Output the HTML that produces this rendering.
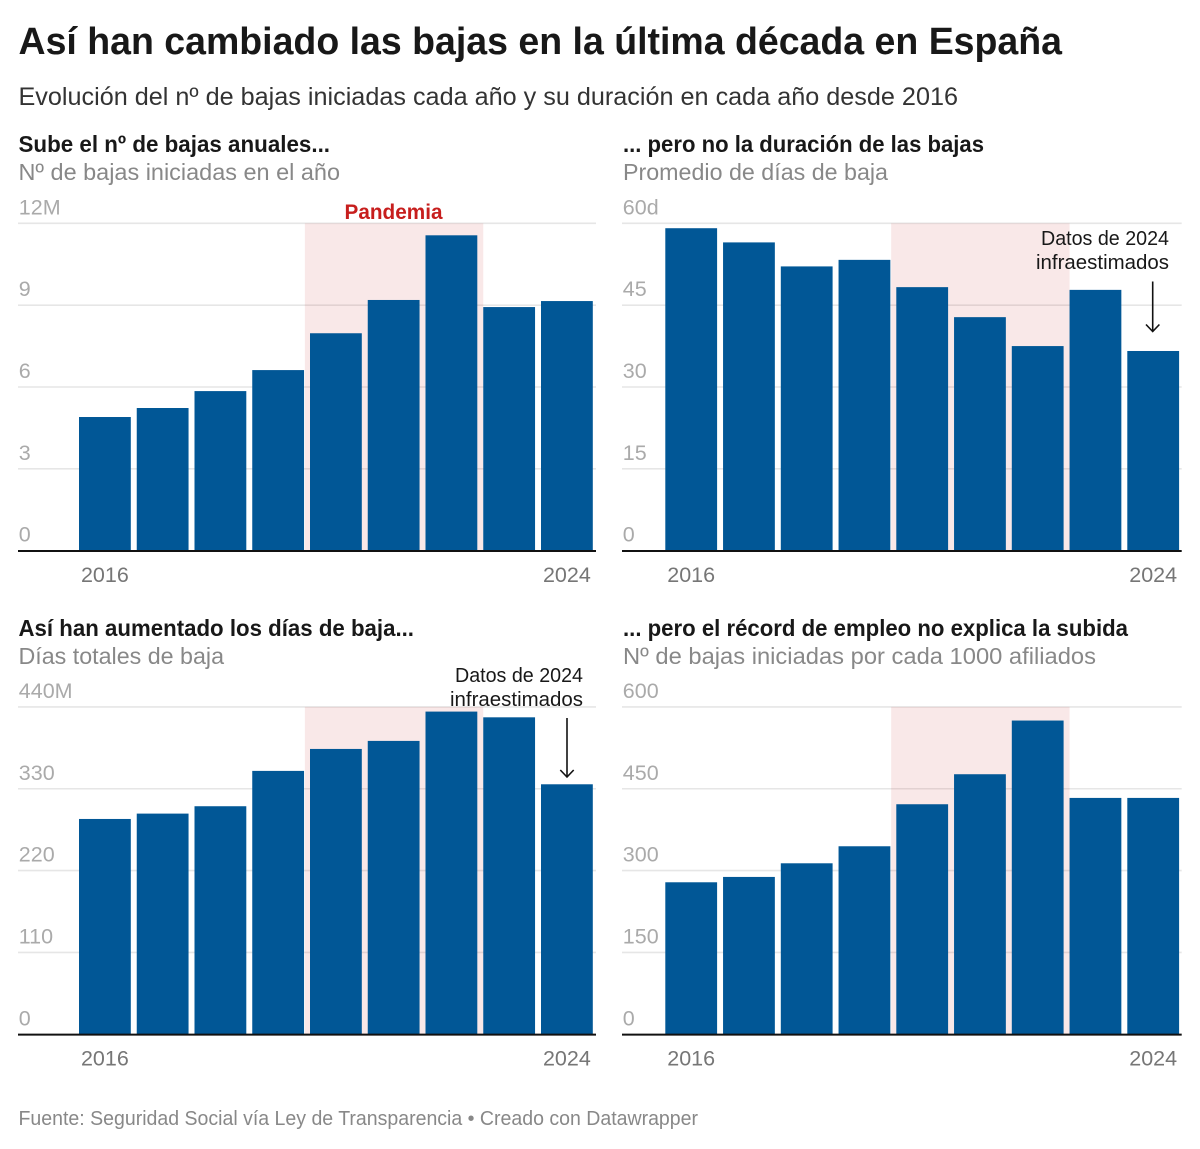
<!DOCTYPE html>
<html lang="es">
<head>
<meta charset="utf-8">
<title>Así han cambiado las bajas en la última década en España</title>
<style>
  html, body { margin: 0; padding: 0; background: #fff; width: 1200px; height: 1149px; overflow: hidden; }
  svg { display: block; font-family: "Liberation Sans", Arial, sans-serif; }
  .title { font-size: 38px; font-weight: 700; fill: #181818; }
  .subtitle { font-size: 25px; fill: #333333; }
  .head { font-size: 23px; font-weight: 700; fill: #181818; }
  .desc { font-size: 23px; fill: #888888; }
  .ytick { font-size: 21.5px; fill: #aaaaaa; }
  .xtick { font-size: 21.5px; fill: #767676; }
  .note { font-size: 20.5px; fill: #181818; }
  .pand { font-size: 21px; font-weight: 700; fill: #c71e1d; }
  .foot { font-size: 20px; fill: #888888; }
</style>
</head>
<body>
<svg id="chart" xmlns="http://www.w3.org/2000/svg" width="1200" height="1149" viewBox="0 0 1200 1149">
  <rect x="0" y="0" width="1200" height="1149" fill="#ffffff"/>
  <text class="title" x="18.5" y="54" textLength="1043.5" lengthAdjust="spacingAndGlyphs">Así han cambiado las bajas en la última década en España</text>
  <text class="subtitle" x="18.5" y="105" textLength="939.5" lengthAdjust="spacingAndGlyphs">Evolución del nº de bajas iniciadas cada año y su duración en cada año desde 2016</text>

  <text class="head" x="18.5" y="152" textLength="311.5" lengthAdjust="spacingAndGlyphs">Sube el nº de bajas anuales...</text>
  <text class="desc" x="18.5" y="180" textLength="321.5" lengthAdjust="spacingAndGlyphs">Nº de bajas iniciadas en el año</text>

  <text class="head" x="623" y="152" textLength="361" lengthAdjust="spacingAndGlyphs">... pero no la duración de las bajas</text>
  <text class="desc" x="623" y="180" textLength="265" lengthAdjust="spacingAndGlyphs">Promedio de días de baja</text>

  <text class="head" x="18.5" y="636" textLength="395.5" lengthAdjust="spacingAndGlyphs">Así han aumentado los días de baja...</text>
  <text class="desc" x="18.5" y="664" textLength="205.5" lengthAdjust="spacingAndGlyphs">Días totales de baja</text>

  <text class="head" x="623" y="636" textLength="505" lengthAdjust="spacingAndGlyphs">... pero el récord de empleo no explica la subida</text>
  <text class="desc" x="623" y="664" textLength="473" lengthAdjust="spacingAndGlyphs">Nº de bajas iniciadas por cada 1000 afiliados</text>

  <g id="panel-1"></g>
  <g id="panel-2"></g>
  <g id="panel-3"></g>
  <g id="panel-4"></g>

  <text class="pand" x="393.5" y="219" text-anchor="middle" textLength="98" lengthAdjust="spacingAndGlyphs">Pandemia</text>

  <text class="note" x="1041" y="245" textLength="128" lengthAdjust="spacingAndGlyphs">Datos de 2024</text>
  <text class="note" x="1036" y="269" textLength="133" lengthAdjust="spacingAndGlyphs">infraestimados</text>
  <g fill="none" stroke="#111111" stroke-width="1.6">
    <path d="M1152.7 281.5V331"/>
    <path d="M1146 324.5L1152.7 331.5L1159.4 324.5"/>
  </g>

  <text class="note" x="455" y="682" textLength="128" lengthAdjust="spacingAndGlyphs">Datos de 2024</text>
  <text class="note" x="450" y="706" textLength="133" lengthAdjust="spacingAndGlyphs">infraestimados</text>
  <g fill="none" stroke="#111111" stroke-width="1.6">
    <path d="M567 718V776.5"/>
    <path d="M560.3 770L567 777L573.7 770"/>
  </g>

  <text class="foot" x="18.5" y="1125" textLength="679.5" lengthAdjust="spacingAndGlyphs">Fuente: Seguridad Social vía Ley de Transparencia • Creado con Datawrapper</text>
</svg>

<script>
// Chart data
var years = [2016, 2017, 2018, 2019, 2020, 2021, 2022, 2023, 2024];
var pandemicYears = [2020, 2022];

var bajasAnuales = [4.90, 5.23, 5.85, 6.62, 7.97, 9.19, 11.56, 8.93, 9.15];
var bajasTicks = [0, 3, 6, 9, 12];
var bajasTickLabels = ['0', '3', '6', '9', '12M'];

var duracionDias = [59.1, 56.5, 52.1, 53.3, 48.3, 42.8, 37.5, 47.8, 36.6];
var duracionTicks = [0, 15, 30, 45, 60];
var duracionTickLabels = ['0', '15', '30', '45', '60d'];

var diasTotales = [289.4, 296.6, 306.5, 354, 383.5, 394.3, 433.7, 426, 336];
var diasTicks = [0, 110, 220, 330, 440];
var diasTickLabels = ['0', '110', '220', '330', '440M'];

var bajasPorMil = [278.6, 288.4, 313.4, 344.6, 421.6, 476.6, 575, 433.2, 433.2];
var porMilTicks = [0, 150, 300, 450, 600];
var porMilTickLabels = ['0', '150', '300', '450', '600'];

var SVG_NS = 'http://www.w3.org/2000/svg';

function make(tag, parent) {
  var el = document.createElementNS(SVG_NS, tag);
  parent.appendChild(el);
  return el;
}

function drawPanel(groupId, axisLeft, axisRight, firstBar, baseY, values, ticks, tickLabels) {
  var group = document.getElementById(groupId);
  var plotHeight = 327.4;
  var step = 57.75;
  var barWidth = 51.8;
  var maxTick = ticks[ticks.length - 1];

  function yScale(v) { return baseY - (v / maxTick) * plotHeight; }
  function xScale(i) { return firstBar + i * step; }
  function xOfYear(year) { return xScale(years.indexOf(year)); }

  // gridlines + y tick labels
  ticks.forEach(function (t, i) {
    if (t !== 0) {
      var line = make('line', group);
      
      
      line.setAttribute('x1', axisLeft);
      line.setAttribute('x2', axisRight);
      line.setAttribute('y1', yScale(t));
      line.setAttribute('y2', yScale(t));
      line.setAttribute('stroke', '#e6e6e6');
      line.setAttribute('stroke-width', '1.6');
    }
    var label = make('text', group);
    
    
    label.setAttribute('class', 'ytick');
    label.setAttribute('x', axisLeft + 0.8);
    label.setAttribute('y', yScale(t) - 9);
    label.textContent = tickLabels[i];
  });

  // pandemic band: from right edge of the bar before it, to left edge of the bar after it
  var bandStart = xOfYear(pandemicYears[0]) - step + barWidth + 0.8;
  var bandEnd = xOfYear(pandemicYears[1]) + step;
  var band = make('rect', group);
  
  
  band.setAttribute('x', bandStart);
  band.setAttribute('y', yScale(maxTick));
  band.setAttribute('width', bandEnd - bandStart);
  band.setAttribute('height', plotHeight);
  band.setAttribute('fill', '#c71e1d');
  band.setAttribute('fill-opacity', '0.1');

  // bars
  values.forEach(function (v, i) {
    var bar = make('rect', group);
    
    
    bar.setAttribute('x', xScale(i));
    bar.setAttribute('y', yScale(v));
    bar.setAttribute('width', barWidth);
    bar.setAttribute('height', baseY - yScale(v));
    bar.setAttribute('fill', '#015796');
  });

  // baseline
  var axis = make('line', group);
  
  
  axis.setAttribute('x1', axisLeft);
  axis.setAttribute('x2', axisRight);
  axis.setAttribute('y1', baseY + 0.3);
  axis.setAttribute('y2', baseY + 0.3);
  axis.setAttribute('stroke', '#111111');
  axis.setAttribute('stroke-width', '2');

  // x labels: first and last only
  [0, years.length - 1].forEach(function (i) {
    var xl = make('text', group);
    
    
    xl.setAttribute('class', 'xtick');
    xl.setAttribute('x', xScale(i) + barWidth / 2);
    xl.setAttribute('y', baseY + 31.3);
    xl.setAttribute('text-anchor', 'middle');
    xl.textContent = String(years[i]);
  });
}

drawPanel('panel-1', 18, 596, 79, 550.7, bajasAnuales, bajasTicks, bajasTickLabels);
drawPanel('panel-2', 622, 1181.7, 665.3, 550.7, duracionDias, duracionTicks, duracionTickLabels);
drawPanel('panel-3', 18, 596, 79, 1034.3, diasTotales, diasTicks, diasTickLabels);
drawPanel('panel-4', 622, 1181.7, 665.3, 1034.3, bajasPorMil, porMilTicks, porMilTickLabels);
</script>
</body>
</html>
